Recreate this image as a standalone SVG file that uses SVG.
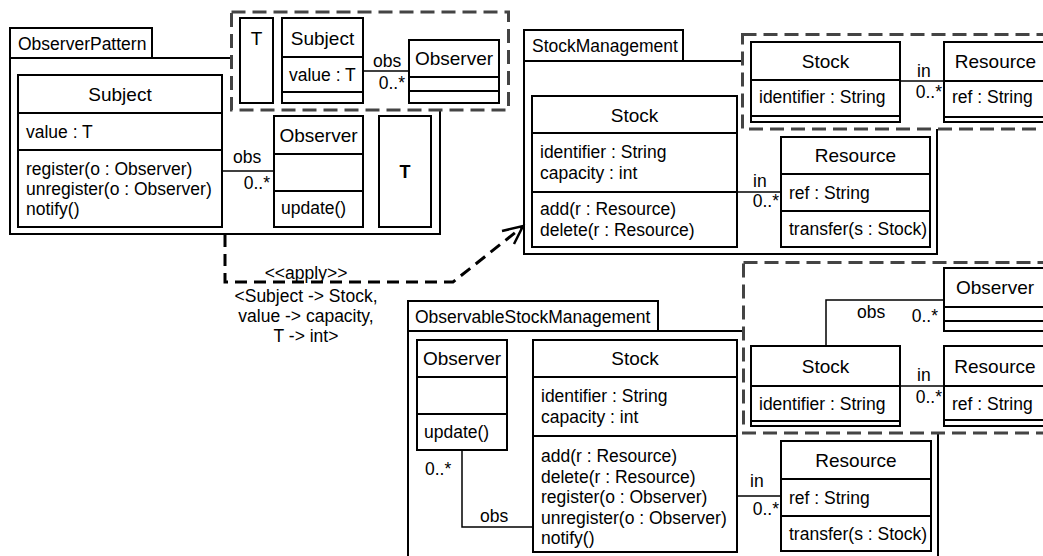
<svg xmlns="http://www.w3.org/2000/svg" width="1043" height="556" viewBox="0 0 1043 556">
<style>
text{font-family:"Liberation Sans",Arial,sans-serif;fill:#000}
.name{font-size:19px;text-anchor:middle}
.attr{font-size:17.5px}
.lbl{font-size:17.5px}
.mid{text-anchor:middle}
.end{text-anchor:end}
.box{fill:#fff;stroke:#000;stroke-width:2}
.div{stroke:#000;stroke-width:2;fill:none}
.pkg{fill:#fff;stroke:#000;stroke-width:2}
.dash{fill:#fff;stroke:#444;stroke-width:3;stroke-dasharray:14 7}
.assoc{fill:none;stroke:#000;stroke-width:1.5}
.dep{fill:none;stroke:#000;stroke-width:3;stroke-dasharray:12 7}
.arrow{fill:none;stroke:#000;stroke-width:2.5}
</style>
<rect width="1043" height="556" fill="#fff"/>

<!-- ObserverPattern package -->
<g id="pkg-observer-pattern">
<rect class="pkg" x="10" y="58" width="430" height="176"/>
<rect class="pkg" x="10" y="28" width="142" height="30"/>
<text class="lbl" x="18" y="50">ObserverPattern</text>
</g>
<g id="params-observer-pattern">
<rect class="dash" x="231.5" y="12" width="277" height="98"/>
</g>
<g id="op-T-param">
<rect class="box" x="240" y="18" width="33" height="85"/>
<text class="name" x="256.5" y="45">T</text>
</g>
<g id="op-Subject-param">
<rect class="box" x="282" y="18" width="81" height="85"/>
<path class="div" d="M282,57H363M282,92H363"/>
<text class="name" x="322.5" y="45">Subject</text>
<text class="attr" x="289" y="81">value : T</text>
</g>
<g id="op-Observer-param">
<rect class="box" x="409" y="40" width="90" height="63"/>
<path class="div" d="M409,77H499M409,91H499"/>
<text class="name" x="454" y="65">Observer</text>
</g>
<g id="op-Subject">
<rect class="box" x="18" y="75" width="204" height="152"/>
<path class="div" d="M18,113H222M18,150H222"/>
<text class="name" x="120" y="100.5">Subject</text>
<text class="attr" x="26" y="137.5">value : T</text>
<text class="attr" x="26" y="175">register(o : Observer)</text>
<text class="attr" x="26" y="195">unregister(o : Observer)</text>
<text class="attr" x="26" y="214.5">notify()</text>
</g>
<g id="op-Observer">
<rect class="box" x="274" y="116" width="89" height="111"/>
<path class="div" d="M274,154H363M274,191H363"/>
<text class="name" x="318.5" y="141.5">Observer</text>
<text class="attr" x="281" y="214">update()</text>
</g>
<g id="op-T">
<rect class="box" x="379" y="116" width="52" height="111"/>
<text class="name" x="405" y="178" style="font-weight:bold;font-size:18px">T</text>
</g>

<!-- StockManagement package -->
<g id="pkg-stock-management">
<rect class="pkg" x="524" y="61" width="413" height="193"/>
<rect class="pkg" x="524" y="30" width="159" height="31"/>
<text class="lbl" x="532" y="52">StockManagement</text>
</g>
<g id="params-stock-management">
<rect class="dash" x="742.5" y="34.5" width="320" height="94.5"/>
</g>
<g id="sm-Stock-param">
<rect class="box" x="751" y="42" width="149" height="80"/>
<path class="div" d="M751,80H900M751,116H900"/>
<text class="name" x="825.5" y="68">Stock</text>
<text class="attr" x="759" y="103">identifier : String</text>
</g>
<g id="sm-Resource-param">
<rect class="box" x="944" y="42" width="103" height="80"/>
<path class="div" d="M944,81H1047M944,117H1047"/>
<text class="name" x="995.5" y="68">Resource</text>
<text class="attr" x="952" y="103">ref : String</text>
</g>
<g id="sm-Stock">
<rect class="box" x="532" y="96" width="205" height="151"/>
<path class="div" d="M532,133H737M532,192H737"/>
<text class="name" x="634.5" y="122">Stock</text>
<text class="attr" x="540" y="158">identifier : String</text>
<text class="attr" x="540" y="179">capacity : int</text>
<text class="attr" x="540" y="215">add(r : Resource)</text>
<text class="attr" x="540" y="236">delete(r : Resource)</text>
</g>
<g id="sm-Resource">
<rect class="box" x="781" y="137" width="149" height="110"/>
<path class="div" d="M781,174H930M781,211H930"/>
<text class="name" x="855.5" y="162">Resource</text>
<text class="attr" x="789" y="198.5">ref : String</text>
<text class="attr" x="789" y="235">transfer(s : Stock)</text>
</g>

<!-- ObservableStockManagement package -->
<g id="pkg-observable-stock-management">
<rect class="pkg" x="408" y="331" width="530" height="260"/>
<rect class="pkg" x="408" y="301" width="250" height="30"/>
<text class="lbl" x="415" y="323">ObservableStockManagement</text>
</g>
<g id="params-observable-stock-management">
<rect class="dash" x="743.5" y="262.5" width="320" height="170.5"/>
</g>
<g id="osm-Observer-param">
<rect class="box" x="944" y="268" width="103" height="63"/>
<path class="div" d="M944,307H1047M944,321H1047"/>
<text class="name" x="995" y="294">Observer</text>
</g>
<g id="osm-Stock-param">
<rect class="box" x="751" y="346" width="149" height="80"/>
<path class="div" d="M751,386H900M751,421H900"/>
<text class="name" x="825.5" y="372.5">Stock</text>
<text class="attr" x="759" y="409.5">identifier : String</text>
</g>
<g id="osm-Resource-param">
<rect class="box" x="944" y="346" width="103" height="80"/>
<path class="div" d="M944,386H1047M944,420H1047"/>
<text class="name" x="995" y="372.5">Resource</text>
<text class="attr" x="952" y="409.5">ref : String</text>
</g>
<g id="osm-Observer">
<rect class="box" x="417" y="340" width="90" height="110"/>
<path class="div" d="M417,377H507M417,414H507"/>
<text class="name" x="462" y="365">Observer</text>
<text class="attr" x="424" y="438">update()</text>
</g>
<g id="osm-Stock">
<rect class="box" x="533" y="340" width="204" height="212"/>
<path class="div" d="M533,377H737M533,436H737"/>
<text class="name" x="635" y="365">Stock</text>
<text class="attr" x="541" y="402">identifier : String</text>
<text class="attr" x="541" y="423">capacity : int</text>
<text class="attr" x="541" y="462">add(r : Resource)</text>
<text class="attr" x="541" y="482.5">delete(r : Resource)</text>
<text class="attr" x="541" y="503">register(o : Observer)</text>
<text class="attr" x="541" y="523.5">unregister(o : Observer)</text>
<text class="attr" x="541" y="544">notify()</text>
</g>
<g id="osm-Resource">
<rect class="box" x="781" y="441" width="150" height="110"/>
<path class="div" d="M781,479H931M781,516H931"/>
<text class="name" x="856" y="466.5">Resource</text>
<text class="attr" x="789" y="503.5">ref : String</text>
<text class="attr" x="789" y="539.5">transfer(s : Stock)</text>
</g>

<!-- Connectors -->
<g id="connectors">
<path class="assoc" d="M363,71H409"/>
<text class="lbl" x="373" y="67">obs</text>
<text class="lbl end" x="405" y="89">0..*</text>

<path class="assoc" d="M222,171H274"/>
<text class="lbl" x="233" y="163">obs</text>
<text class="lbl end" x="270" y="189">0..*</text>

<path class="assoc" d="M900,81H944"/>
<text class="lbl" x="917" y="76.5">in</text>
<text class="lbl end" x="942" y="98">0..*</text>

<path class="assoc" d="M737,192H781"/>
<text class="lbl" x="753" y="187">in</text>
<text class="lbl end" x="779" y="207">0..*</text>

<path class="assoc" d="M826,346V300H944"/>
<text class="lbl" x="857" y="318">obs</text>
<text class="lbl end" x="938" y="322">0..*</text>

<path class="assoc" d="M900,386H944"/>
<text class="lbl" x="917" y="381">in</text>
<text class="lbl end" x="942" y="403">0..*</text>

<path class="assoc" d="M462,450V527H533"/>
<text class="lbl" x="425" y="475">0..*</text>
<text class="lbl" x="480" y="522">obs</text>

<path class="assoc" d="M737,496H781"/>
<text class="lbl" x="750" y="487">in</text>
<text class="lbl end" x="779" y="515">0..*</text>

<g id="apply-dependency">
<path class="dep" d="M225,235V282H453L521,228"/>
<path class="arrow" d="M502,231L523,226L514,244"/>
<text class="lbl mid" x="306" y="279">&lt;&lt;apply&gt;&gt;</text>
<text class="lbl mid" x="306" y="302">&lt;Subject -&gt; Stock,</text>
<text class="lbl mid" x="306" y="322">value -&gt; capacity,</text>
<text class="lbl mid" x="306" y="342">T -&gt; int&gt;</text>
</g>
</g>
</svg>
